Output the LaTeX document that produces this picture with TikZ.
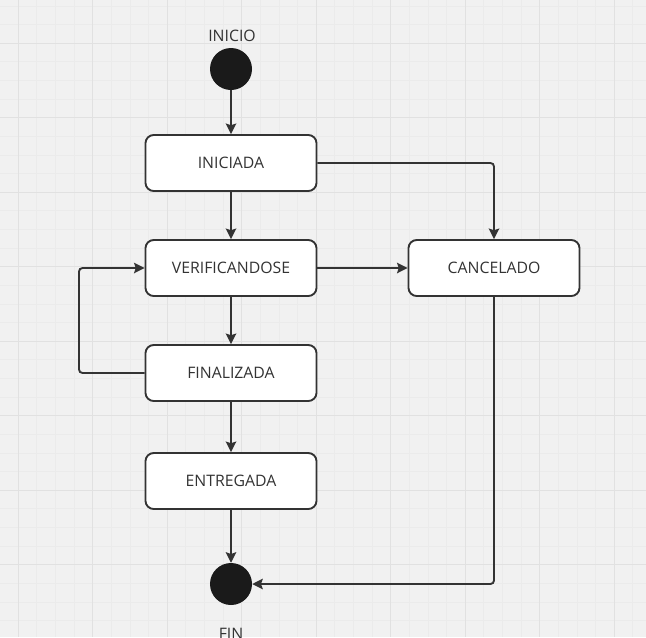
\documentclass[tikz,border=0pt]{standalone}
\usepackage{fontspec}
\setmainfont{Open Sans}
\usetikzlibrary{arrows.meta}

\definecolor{fondo}{HTML}{F1F1F1}
\definecolor{rejilla}{HTML}{E1E1E1}
\definecolor{rejillafina}{HTML}{EBEBEB}
\definecolor{linea}{HTML}{333333}
\definecolor{negro}{HTML}{1A1A1A}

\tikzset{
  estado/.style={draw=linea, fill=white, rounded corners=7pt, line width=1.6pt,
    minimum width=5.13cm, minimum height=1.68cm, text=linea,
    font=\fontsize{13.5}{15}\selectfont},
  punto/.style={circle, fill=negro, minimum size=1.26cm, inner sep=0pt},
  rotulo/.style={text=linea, font=\fontsize{13.5}{15}\selectfont},
  flecha/.style={draw=linea, line width=1.6pt, rounded corners=3pt,
    -{Stealth[length=9pt, width=9pt, inset=1.5pt]}},
}

\begin{document}
\begin{tikzpicture}[x=0.03cm, y=-0.03cm]
    % fondo con rejilla
    \useasboundingbox (0,0) rectangle (646,637);
    \clip (0,0) rectangle (646,637);
    \fill[fondo] (0,0) rectangle (646,637);
    \foreach \i in {0,...,35} {
      \draw[rejillafina, line width=0.3pt] (-0.625+18.625*\i,0) -- ++(0,637);
      \draw[rejillafina, line width=0.3pt] (0,5.75+18.625*\i) -- ++(646,0);
    }
    \foreach \i in {0,...,8} {
      \draw[rejilla, line width=0.7pt] (18+74.5*\i,0) -- ++(0,637);
      \draw[rejilla, line width=0.7pt] (0,43+74.5*\i) -- ++(646,0);
    }

    % estados
    \node[punto] (ini) at (231,69) {};
    \node[rotulo] (tini) at (232,36) {INICIO};
    \node[estado] (iniciada) at (231,163) {INICIADA};
    \node[estado] (verif) at (231,268) {VERIFICANDOSE};
    \node[estado] (final) at (231,373) {FINALIZADA};
    \node[estado] (entreg) at (231,481) {ENTREGADA};
    \node[estado] (cancel) at (494,268) {CANCELADO};
    \node[punto] (fin) at (231,584) {};
    \node[rotulo] (tfin) at (231,634) {FIN};
    \coordinate (lazo) at (79,0);

    % transiciones
    \draw[flecha] (ini) -- (iniciada);
    \draw[flecha] (iniciada) -- (verif);
    \draw[flecha] (verif) -- (final);
    \draw[flecha] (final) -- (entreg);
    \draw[flecha] (entreg) -- (fin);
    \draw[flecha] (iniciada.east) -| (cancel.north);
    \draw[flecha] (verif) -- (cancel);
    \draw[flecha] (final.west) -- (final.west -| lazo) |- (verif.west);
    \draw[flecha] (cancel.south) |- (fin.east);
\end{tikzpicture}
\end{document}
